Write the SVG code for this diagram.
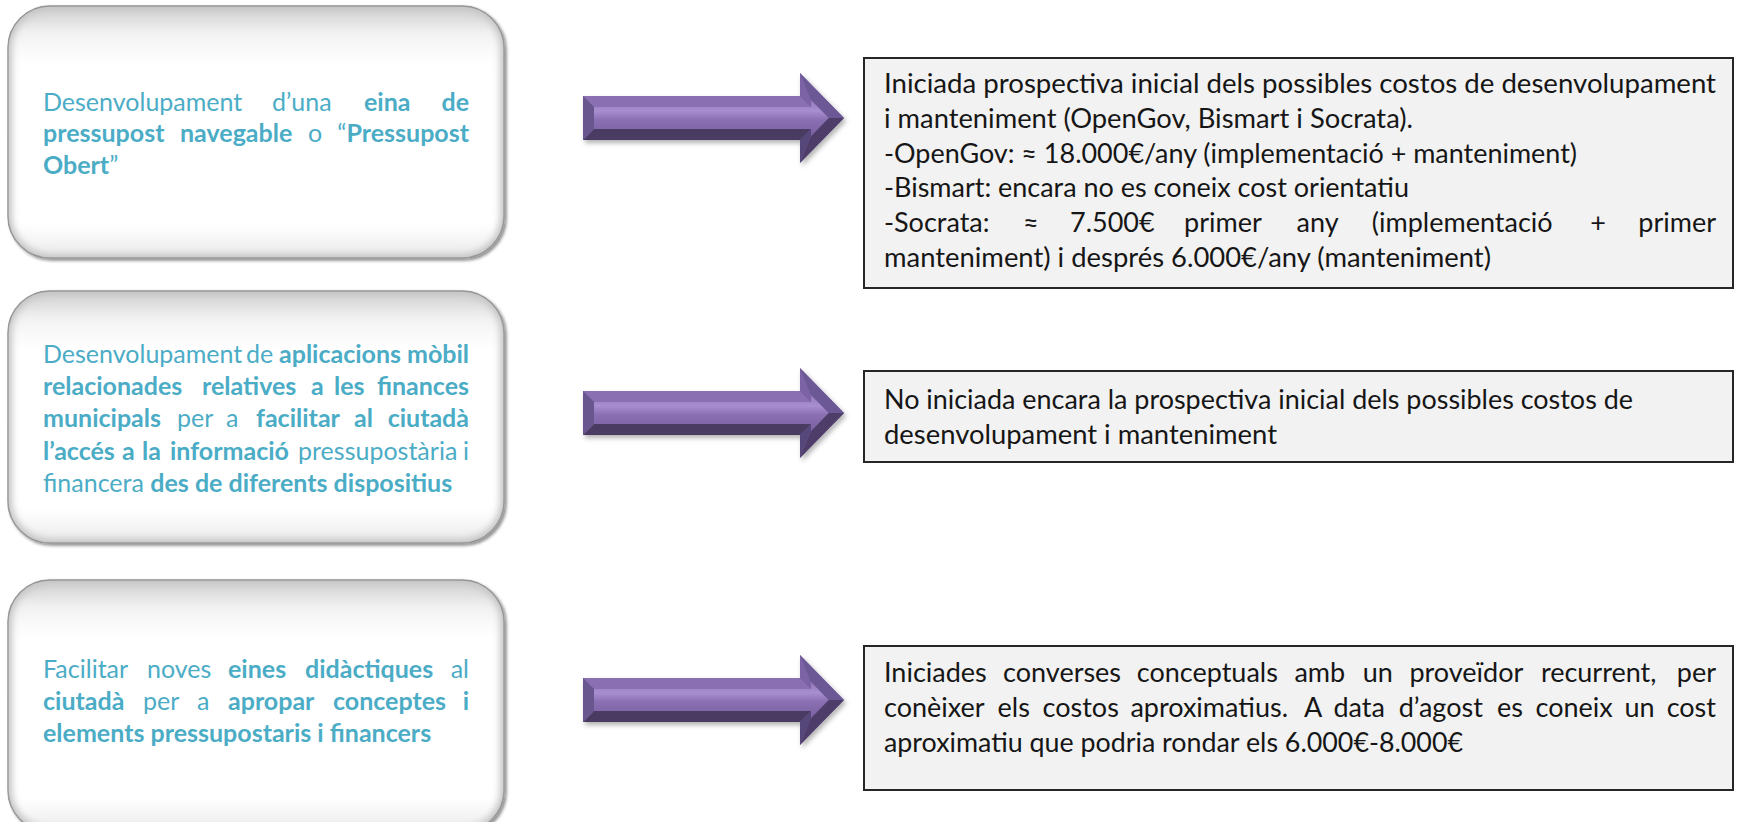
<svg xmlns="http://www.w3.org/2000/svg" xmlns:xlink="http://www.w3.org/1999/xlink" width="1738" height="822" viewBox="0 0 1738 822">
<defs>
<style>
.lt{font-family:Lato,"Open Sans","Liberation Sans",sans-serif;font-size:25px;fill:#4BACC6}
.b{font-weight:bold}
.rt{font-family:Lato,"Open Sans","Liberation Sans",sans-serif;font-size:27px;fill:#161616}
.rbox{fill:#f2f2f2;stroke:#262626;stroke-width:2}
.lout{fill:#c4c4c4;stroke:#8c8c8c;stroke-width:1.5}
</style>
<linearGradient id="lbg" x1="0" y1="0" x2="0" y2="1">
<stop offset="0" stop-color="#d2d2d2"/>
<stop offset="0.1" stop-color="#f3f3f3"/>
<stop offset="0.22" stop-color="#ffffff"/>
<stop offset="0.88" stop-color="#ffffff"/>
<stop offset="1" stop-color="#ececec"/>
</linearGradient>
<filter id="soft" x="-5%" y="-5%" width="110%" height="110%"><feGaussianBlur stdDeviation="3.5"/></filter>
<filter id="bsh" x="-5%" y="-5%" width="112%" height="112%"><feDropShadow dx="2" dy="2" stdDeviation="1.5" flood-color="#000" flood-opacity="0.45"/></filter>
<filter id="ash" x="-10%" y="-20%" width="125%" height="150%"><feDropShadow dx="2" dy="3" stdDeviation="2.5" flood-color="#000" flood-opacity="0.3"/></filter>
<linearGradient id="face" x1="0" y1="0" x2="0" y2="1">
<stop offset="0" stop-color="#9277ba"/>
<stop offset="0.3" stop-color="#a88fd0"/>
<stop offset="0.55" stop-color="#8a70b2"/>
<stop offset="1" stop-color="#7a61a2"/>
</linearGradient>
<g id="arrow">
<polygon points="0,-22 217,-22 217,-45 261,0 217,45 217,22 0,22" fill="#7a62a2"/>
<polygon points="0,-22 217,-22 228,-11 11,-11" fill="#8a70b3"/>
<polygon points="217,-22 217,-45 228,-18 228,-11" fill="#7b63a5"/>
<polygon points="217,-45 261,0 245.6,0 228,-18" fill="#6d5996"/>
<polygon points="261,0 217,45 228,18 245.6,0" fill="#4d3d67"/>
<polygon points="217,22 217,45 228,18 228,11" fill="#57467a"/>
<polygon points="0,22 11,11 228,11 217,22" fill="#4a3b62"/>
<polygon points="0,-22 11,-11 11,11 0,22" fill="#6a578f"/>
<polygon points="11,-11 228,-11 228,-18 245.6,0 228,18 228,11 11,11" fill="url(#face)"/>
</g>
</defs>
<rect width="1738" height="822" fill="#ffffff"/>

<g id="n-left1">
<rect class="lout" x="8" y="6" width="496" height="252" rx="42" filter="url(#bsh)"/>
<rect x="12" y="10" width="488" height="244" rx="38" fill="url(#lbg)" filter="url(#soft)"/>
<text class="lt" y="110.5"><tspan x="43">Desenvolupament</tspan><tspan x="272">d’una</tspan><tspan x="364" class="b">eina</tspan></text>
<text class="lt b" x="469" y="110.5" text-anchor="end">de</text>
<text class="lt" y="142.3"><tspan x="43" class="b">pressupost</tspan><tspan x="180" class="b">navegable</tspan><tspan x="308">o</tspan></text>
<text class="lt" x="469" y="142.3" text-anchor="end">“<tspan class="b">Pressupost</tspan></text>
<text class="lt" x="43" y="174"><tspan class="b">Obert</tspan>”</text>
</g>

<g id="n-left2">
<rect class="lout" x="8" y="291" width="496" height="252" rx="42" filter="url(#bsh)"/>
<rect x="12" y="295" width="488" height="244" rx="38" fill="url(#lbg)" filter="url(#soft)"/>
<text class="lt" y="363"><tspan x="43">Desenvolupament</tspan><tspan x="246">de</tspan><tspan x="279" class="b">aplicacions</tspan></text>
<text class="lt b" x="469" y="363" text-anchor="end">mòbil</text>
<text class="lt b" y="395"><tspan x="43">relacionades</tspan><tspan x="202">relatives</tspan><tspan x="311">a</tspan><tspan x="334">les</tspan></text>
<text class="lt b" x="469" y="395" text-anchor="end">finances</text>
<text class="lt" y="427"><tspan x="43" class="b">municipals</tspan><tspan x="177">per</tspan><tspan x="226">a</tspan><tspan x="256" class="b">facilitar</tspan><tspan x="354" class="b">al</tspan></text>
<text class="lt b" x="469" y="427" text-anchor="end">ciutadà</text>
<text class="lt" y="460"><tspan x="43" class="b">l’accés</tspan><tspan x="122" class="b">a</tspan><tspan x="142" class="b">la</tspan><tspan x="170" class="b">informació</tspan><tspan x="298">pressupostària</tspan></text>
<text class="lt" x="469" y="460" text-anchor="end">i</text>
<text class="lt" x="43" y="492">financera <tspan class="b">des de diferents dispositius</tspan></text>
</g>

<g id="n-left3">
<rect class="lout" x="8" y="580" width="496" height="252" rx="42" filter="url(#bsh)"/>
<rect x="12" y="584" width="488" height="244" rx="38" fill="url(#lbg)" filter="url(#soft)"/>
<text class="lt" y="678"><tspan x="43">Facilitar</tspan><tspan x="147">noves</tspan><tspan x="228" class="b">eines</tspan><tspan x="305" class="b">didàctiques</tspan></text>
<text class="lt" x="469" y="678" text-anchor="end">al</text>
<text class="lt" y="710"><tspan x="43" class="b">ciutadà</tspan><tspan x="143">per</tspan><tspan x="197">a</tspan><tspan x="228" class="b">apropar</tspan><tspan x="333" class="b">conceptes</tspan></text>
<text class="lt b" x="469" y="710" text-anchor="end">i</text>
<text class="lt b" x="43" y="742">elements pressupostaris i financers</text>
</g>

<g id="connectors">
<use xlink:href="#arrow" href="#arrow" transform="translate(583,118)" filter="url(#ash)"/>
<use xlink:href="#arrow" href="#arrow" transform="translate(583,413)" filter="url(#ash)"/>
<use xlink:href="#arrow" href="#arrow" transform="translate(583,700)" filter="url(#ash)"/>
</g>

<g id="n-right1">
<rect class="rbox" x="864" y="58" width="869" height="230"/>
<text class="rt" x="884" y="93" textLength="832" lengthAdjust="spacingAndGlyphs">Iniciada prospectiva inicial dels possibles costos de desenvolupament</text>
<text class="rt" x="884" y="127.8" textLength="529" lengthAdjust="spacingAndGlyphs">i manteniment (OpenGov, Bismart i Socrata).</text>
<text class="rt" x="884" y="162.6" textLength="693" lengthAdjust="spacingAndGlyphs">-OpenGov: ≈ 18.000€/any (implementació + manteniment)</text>
<text class="rt" x="884" y="197.4" textLength="525" lengthAdjust="spacingAndGlyphs">-Bismart: encara no es coneix cost orientatiu</text>
<text class="rt" y="232.2"><tspan x="884">-Socrata:</tspan><tspan x="1023">≈</tspan><tspan x="1070">7.500€</tspan><tspan x="1184">primer</tspan><tspan x="1296.6">any</tspan><tspan x="1371.8">(implementació</tspan><tspan x="1590.2">+</tspan></text>
<text class="rt" x="1716" y="232.2" text-anchor="end">primer</text>
<text class="rt" x="884" y="267" textLength="607" lengthAdjust="spacingAndGlyphs">manteniment) i després 6.000€/any (manteniment)</text>
</g>

<g id="n-right2">
<rect class="rbox" x="864" y="371" width="869" height="91"/>
<text class="rt" x="884" y="409" textLength="749" lengthAdjust="spacingAndGlyphs">No iniciada encara la prospectiva inicial dels possibles costos de</text>
<text class="rt" x="884" y="444" textLength="393" lengthAdjust="spacingAndGlyphs">desenvolupament i manteniment</text>
</g>

<g id="n-right3">
<rect class="rbox" x="864" y="646" width="869" height="144"/>
<text class="rt" y="682"><tspan x="884">Iniciades</tspan><tspan x="1003.1">converses</tspan><tspan x="1136.8">conceptuals</tspan><tspan x="1294.4">amb</tspan><tspan x="1362.8">un</tspan><tspan x="1409.4">proveïdor</tspan><tspan x="1540.9">recurrent,</tspan></text>
<text class="rt" x="1716" y="682" text-anchor="end">per</text>
<text class="rt" y="717"><tspan x="884">conèixer</tspan><tspan x="997.6">els</tspan><tspan x="1042.6">costos</tspan><tspan x="1130.4">aproximatius.</tspan><tspan x="1304">A</tspan><tspan x="1333.4">data</tspan><tspan x="1398.7">d’agost</tspan><tspan x="1497.1">es</tspan><tspan x="1535.5">coneix</tspan><tspan x="1624.5">un</tspan></text>
<text class="rt" x="1716" y="717" text-anchor="end">cost</text>
<text class="rt" x="884" y="752" textLength="579" lengthAdjust="spacingAndGlyphs">aproximatiu que podria rondar els 6.000€-8.000€</text>
</g>
</svg>
